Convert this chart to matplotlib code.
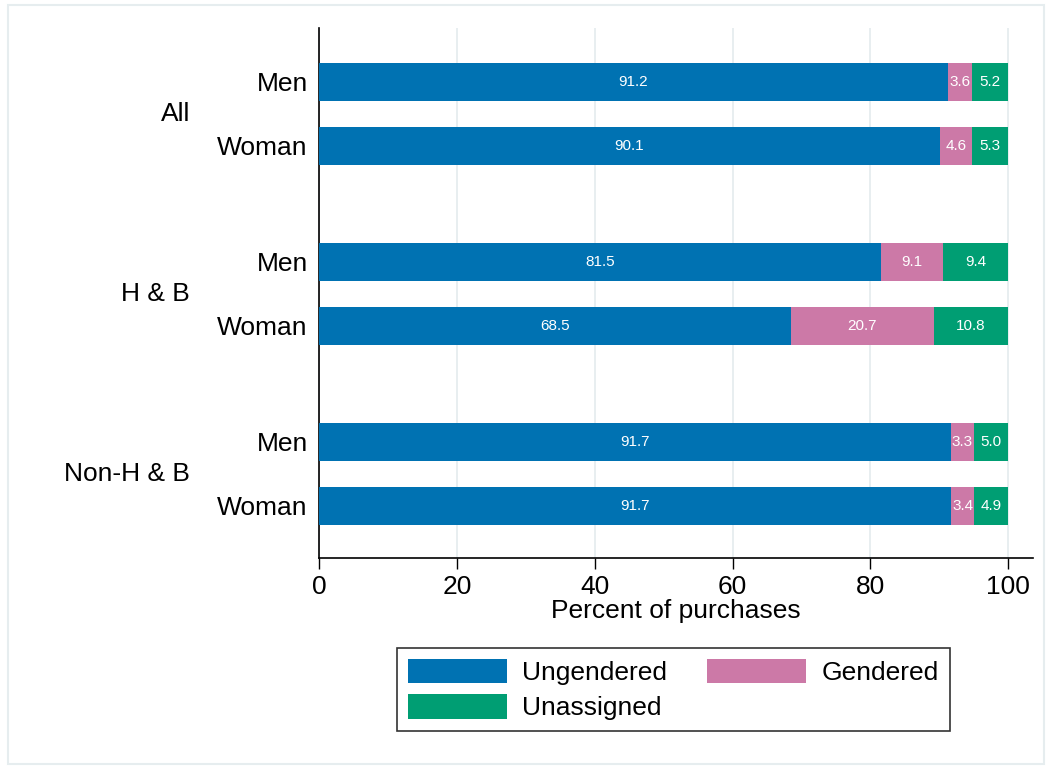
import matplotlib
matplotlib.use("Agg")
import matplotlib.pyplot as plt
import numpy as np

plt.rcParams['font.family'] = ['Liberation Sans', 'DejaVu Sans']

# data
groups = ["All", "H & B", "Non-H & B"]
sexes = ["Men", "Woman"]
ungendered = [91.2, 90.1, 81.5, 68.5, 91.7, 91.7]
gendered = [3.6, 4.6, 9.1, 20.7, 3.3, 3.4]
unassigned = [5.2, 5.3, 9.4, 10.8, 5.0, 4.9]
series_names = ["Ungendered", "Gendered", "Unassigned"]
colors = ["#0072B2", "#CC79A7", "#009E73"]
xticks = [0, 20, 40, 60, 80, 100]

fig = plt.figure(figsize=(10.52, 7.69), dpi=100)
ax = fig.add_axes([319/1052, 1-558/769, (1033-319)/1052, (558-28)/769])

# bar positions: two bars per group, a wider gap between groups
group_gap = 1.8125
pos = []
for g in range(len(groups)):
    for s in range(len(sexes)):
        pos.append(g * group_gap + g * 1.0 + s)
pos = np.array(pos)

series = [ungendered, gendered, unassigned]
left = np.zeros(len(pos))
bars = []
for vals, name, col in zip(series, series_names, colors):
    vals = np.array(vals)
    b = ax.barh(pos, vals, left=left, height=0.59, color=col, label=name, zorder=3)
    bars.append(b)
    for p, l, v in zip(pos, left, vals):
        ax.text(l + v/2, p, "%.1f" % v, ha='center', va='center',
                color='white', fontsize=11, zorder=4)
    left = left + vals

ax.set_xlim(0, 103.6)
ax.set_ylim(pos[-1] + 0.8125, -0.84)
ax.set_xticks(xticks)
ax.set_xticklabels([str(t) for t in xticks], fontsize=19)
ax.tick_params(axis='x', length=8, width=1, direction='out', pad=4)
ax.set_xlabel("Percent of purchases", fontsize=19, labelpad=0)
ax.set_yticks(pos)
ax.set_yticklabels(sexes * len(groups), fontsize=19)
ax.tick_params(axis='y', length=0, pad=8)
ax.grid(axis='x', color='#E6EDEF', linewidth=1.3, zorder=0)
for sp in ['top', 'right']:
    ax.spines[sp].set_visible(False)
ax.spines['left'].set_linewidth(1.2)
ax.spines['bottom'].set_linewidth(1.2)

# group labels
for g, name in enumerate(groups):
    mid = (pos[2*g] + pos[2*g+1]) / 2
    ax.annotate(name, xy=(0, mid), xycoords=('axes fraction', 'data'),
                xytext=(-129, 0), textcoords='offset pixels',
                ha='right', va='center', fontsize=19)

# legend filled row by row: Ungendered, Gendered / Unassigned
order = [0, 2, 1]
leg = fig.legend([bars[i] for i in order], [series_names[i] for i in order],
                 loc='upper left', bbox_to_anchor=(397/1052, 1-648/769), ncol=2,
                 fontsize=19, frameon=True, fancybox=False, edgecolor='black',
                 handlelength=3.75, handleheight=1.05, columnspacing=1.5,
                 handletextpad=0.6, labelspacing=0.35, borderpad=0.4,
                 borderaxespad=0)
leg.get_frame().set_linewidth(1.2)

# light outer frame
fig.patches.append(plt.Rectangle((8/1052, 5/769), 1-16/1052, 1-10/769,
                                 transform=fig.transFigure, fill=False,
                                 edgecolor='#E6EDEF', linewidth=1.5))

fig.savefig("out.png", dpi=100)
